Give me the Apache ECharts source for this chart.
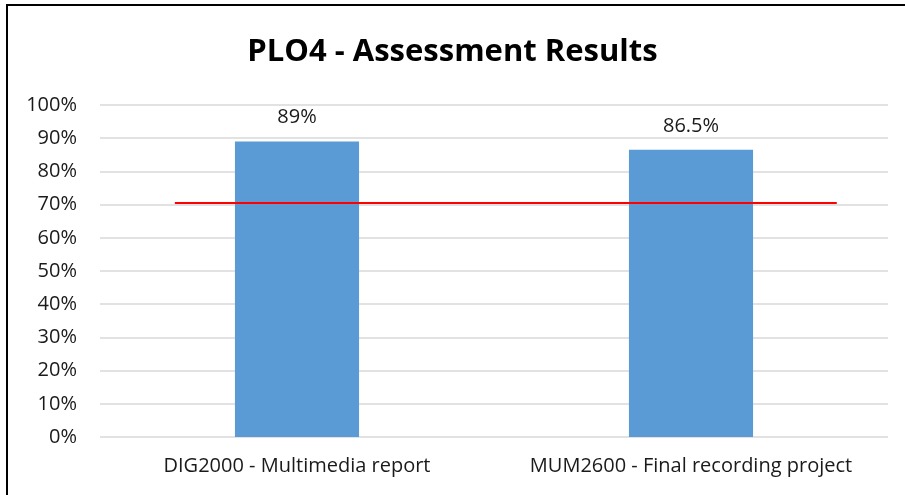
<!DOCTYPE html>
<html>
<head>
<meta charset="utf-8">
<script src="https://cdn.jsdelivr.net/npm/echarts@6/dist/echarts.min.js"></script>
<style>
  html, body { margin: 0; padding: 0; background: #fff; }
  #frame { position: absolute; left: 6px; top: 4px; width: 1000px; height: 600px; border: 2px solid #000; }
  #main { position: absolute; left: 0; top: 0; width: 905px; height: 495px; }
</style>
</head>
<body>
<div id="frame"></div>
<div id="main"></div>
<script>
const categories = ['DIG2000 - Multimedia report', 'MUM2600 - Final recording project'];
const results = [89, 86.5];
const resultLabels = ['89%', '86.5%'];
const targetValue = 70.5;
const targetSpan = [0.19, 1.87]; // in category units, 0..2

const chart = echarts.init(document.getElementById('main'));
const font = '"Open Sans", "Noto Sans", sans-serif';

chart.setOption({
  animation: false,
  title: {
    text: 'PLO4 - Assessment Results',
    left: 'center',
    top: 32,
    textStyle: { fontFamily: font, fontWeight: 'bold', fontSize: 31, color: '#000' }
  },
  grid: { left: 100, right: 17, top: 105, bottom: 58 },
  xAxis: [
    {
      type: 'category',
      data: categories,
      axisLine: { show: false },
      axisTick: { show: false },
      axisLabel: { interval: 0, fontFamily: font, fontSize: 20, color: '#1a1a1a', margin: 19 }
    },
    {
      type: 'value',
      min: 0,
      max: 2,
      show: false
    }
  ],
  yAxis: {
    type: 'value',
    min: 0,
    max: 100,
    interval: 10,
    axisLine: { show: false },
    axisTick: { show: false },
    axisLabel: { formatter: '{value}%', fontFamily: font, fontSize: 20, color: '#1a1a1a', margin: 23 },
    splitLine: { lineStyle: { color: '#d9d9d9', width: 1.5 } }
  },
  series: [
    {
      type: 'bar',
      xAxisIndex: 0,
      data: results,
      barWidth: '31.5%',
      itemStyle: { color: '#5b9bd5' },
      label: {
        show: true,
        position: 'top',
        distance: 14,
        formatter: p => resultLabels[p.dataIndex],
        fontFamily: font,
        fontSize: 20,
        color: '#1a1a1a'
      }
    },
    {
      type: 'line',
      xAxisIndex: 1,
      data: targetSpan.map(x => [x, targetValue]),
      symbol: 'none',
      lineStyle: { color: '#ff0000', width: 2 },
      z: 5
    }
  ]
});
</script>
</body>
</html>
